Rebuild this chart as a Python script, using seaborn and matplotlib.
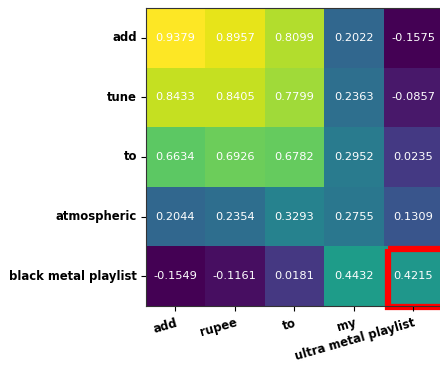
import numpy as np
import pandas as pd
import seaborn as sns
import matplotlib
matplotlib.use("Agg")
import matplotlib.pyplot as plt
from matplotlib.patches import Rectangle

row_labels = ["add", "tune", "to", "atmospheric", "black metal playlist"]
col_labels = ["add", "rupee", "to", "my", "ultra metal playlist"]
row_add = [0.9379, 0.8957, 0.8099, 0.2022, -0.1575]
row_tune = [0.8433, 0.8405, 0.7799, 0.2363, -0.0857]
row_to = [0.6634, 0.6926, 0.6782, 0.2952, 0.0235]
row_atmospheric = [0.2044, 0.2354, 0.3293, 0.2755, 0.1309]
row_black = [-0.1549, -0.1161, 0.0181, 0.4432, 0.4215]

df = pd.DataFrame([row_add, row_tune, row_to, row_atmospheric, row_black],
                  index=row_labels, columns=col_labels)

fig = plt.figure(figsize=(4.4, 3.68), dpi=100)
ax = fig.add_axes([145.5/440, 1 - 306/368, (443 - 145.5)/440, (306 - 8)/368])
sns.heatmap(df, ax=ax, cmap="viridis", cbar=False, annot=True, fmt=".4f",
            annot_kws={"color": "white", "fontsize": 8.2})
for s in ax.spines.values():
    s.set_visible(True)
    s.set_linewidth(0.8)
    s.set_color("#333333")
ax.set_yticklabels(row_labels, rotation=0, fontweight="bold", fontsize=8.4)
ax.set_xticklabels(col_labels, rotation=16, ha="right", rotation_mode="anchor",
                   fontweight="bold", fontsize=8.4)
ax.tick_params(axis="y", length=3.5, pad=2.5)
ax.tick_params(axis="x", length=3.5, pad=4)
ax.add_patch(Rectangle((4.07, 4.05), 1.0, 0.97, fill=False, edgecolor="red",
                       linewidth=4.5, clip_on=False))
fig.savefig("out.png", dpi=100)
